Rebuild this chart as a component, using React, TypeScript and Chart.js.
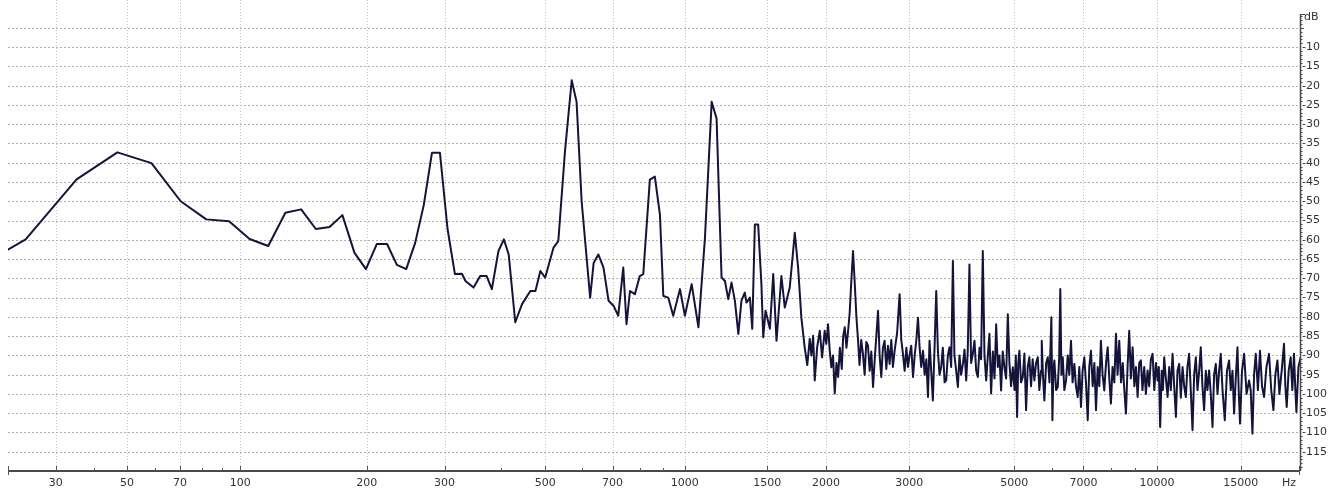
import React, { useEffect, useRef } from 'react';
import { Chart, Scale, registerables } from 'chart.js';

// Frequency axis of the analyser: log10(f + FREQ_WARP_HZ)
const FREQ_WARP_HZ = 18.5;

const lowBandHz = [11.72, 23.44, 35.16, 46.88, 58.59, 70.31, 82.03, 93.75, 105.47, 117.19, 128.91, 140.63, 152.34, 164.06, 175.78, 187.5, 199.22, 210.94, 222.66, 234.38, 246.09, 257.81, 269.53, 281.25, 292.97, 304.69, 316.41];
const lowBandDb = [-70, -59.9, -44.3, -37.3, -40.1, -50.0, -54.7, -55.2, -59.8, -61.6, -53.0, -52.1, -57.2, -56.7, -53.6, -63.4, -67.6, -61.1, -61.1, -66.5, -67.6, -60.8, -51.0, -37.4, -37.4, -57.2, -68.9];

const midBandHz = [328, 334, 348, 360, 372, 382, 395, 406, 416, 430, 445, 464, 476, 488, 500, 521, 534, 552, 571, 585, 600, 626, 637, 652, 669, 686, 703, 720, 738, 750, 763, 782, 801, 815, 842, 863, 885, 900, 922, 945, 977, 1001, 1035, 1070, 1105, 1142, 1170, 1199, 1219, 1239, 1259, 1280, 1302, 1322, 1344, 1355, 1378, 1394, 1412, 1435, 1458, 1471, 1488, 1520, 1545, 1570, 1608, 1635, 1675, 1717, 1745, 1773];
const midBandDb = [-68.8, -70.7, -72.4, -69.4, -69.4, -72.8, -62.9, -59.9, -63.8, -81.4, -76.7, -73.3, -73.3, -68.1, -69.8, -62.1, -60.3, -37.1, -18.6, -24.2, -50.0, -75.0, -66.0, -63.8, -67.2, -75.8, -77.1, -79.7, -67.2, -81.9, -73.3, -74.1, -69.4, -68.9, -44.4, -43.6, -53.5, -74.6, -75.0, -79.7, -72.8, -79.7, -71.5, -82.7, -59.5, -24.2, -28.5, -69.8, -70.7, -75.4, -71.1, -75.8, -84.4, -75.8, -73.7, -76.3, -75.0, -83.1, -56.0, -56.0, -71.5, -85.3, -78.4, -83.1, -68.9, -86.2, -69.4, -77.6, -72.4, -58.2, -67.2, -80.2];

const highBandHz = [
  1802, 1825, 1847, 1862, 1878, 1893, 1915, 1940, 1962, 1987, 2003, 2020, 2036, 2053, 2070, 2087, 2105, 2122, 2140, 2160,
  2175, 2192, 2210, 2228, 2245, 2263, 2282, 2300, 2320, 2339, 2355, 2375, 2395, 2415, 2435, 2455, 2475, 2495, 2516, 2540,
  2560, 2578, 2598, 2619, 2640, 2662, 2684, 2706, 2728, 2750, 2772, 2795, 2830, 2864, 2887, 2911, 2935, 2960, 2983, 3006,
  3031, 3057, 3082, 3107, 3132, 3157, 3182, 3209, 3235, 3262, 3288, 3313, 3340, 3367, 3395, 3423, 3451, 3478, 3506, 3535,
  3565, 3593, 3622, 3651, 3681, 3712, 3740, 3772, 3803, 3833, 3864, 3897, 3928, 3960, 3990, 4023, 4056, 4089, 4123, 4157,
  4191, 4225, 4258, 4293, 4328, 4364, 4400, 4434, 4470, 4508, 4545, 4581, 4618, 4655, 4692, 4730, 4769, 4808, 4848, 4886,
  4925, 4967, 5010, 5040, 5072, 5100, 5128, 5170, 5214, 5255, 5298, 5340, 5383, 5427, 5470, 5516, 5560, 5608, 5650, 5697,
  5717, 5750, 5790, 5840, 5887, 5935, 5990, 6020, 6050, 6078, 6130, 6179, 6220, 6256, 6290, 6330, 6380, 6433, 6485, 6535,
  6589, 6640, 6697, 6750, 6808, 6860, 6916, 6970, 7029, 7085, 7146, 7200, 7259, 7320, 7380, 7439, 7500, 7560, 7619, 7680,
  7744, 7810, 7873, 7935, 7998, 8060, 8130, 8196, 8260, 8328, 8400, 8470, 8535, 8603, 8670, 8740, 8810, 8885, 8960, 9030,
  9104, 9175, 9248, 9320, 9400, 9475, 9555, 9630, 9707, 9789, 9870, 9950, 10030, 10090, 10155, 10230, 10290, 10356, 10440, 10527,
  10610, 10694, 10784, 10870, 10960, 11045, 11135, 11225, 11320, 11410, 11503, 11590, 11686, 11780, 11880, 11975, 12073, 12170, 12270, 12366,
  12465, 12568, 12670, 12770, 12875, 12980, 13088, 13190, 13300, 13410, 13515, 13622, 13740, 13892, 14040, 14183, 14300, 14420, 14532, 14650,
  14773, 14860, 14957, 15100, 15253, 15440, 15625, 15750, 15884, 16010, 16141, 16310, 16477, 16640, 16803, 17000, 17213, 17400, 17583, 17750,
  17927, 18100, 18300, 18509, 18630, 18753, 18930, 19114, 19270, 19427, 19540, 19654, 19850, 20061,
];
const highBandDb = [
  -87.9, -92.5, -85.7, -90.0, -84.9, -96.5, -88.0, -83.6, -90.5, -83.6, -87.0, -81.9, -88.5, -93.1, -90.0, -99.9, -92.0, -95.6, -88.0, -93.5,
  -85.0, -82.7, -88.0, -83.6, -79.0, -70.7, -62.9, -70.7, -80.0, -86.2, -92.5, -86.0, -89.6, -95.0, -86.5, -87.5, -94.0, -89.0, -98.2, -90.0,
  -84.0, -78.4, -90.0, -95.6, -88.0, -86.2, -93.5, -87.5, -92.2, -86.0, -93.0, -88.8, -84.0, -74.1, -86.0, -89.6, -94.0, -88.0, -93.0, -90.0,
  -87.5, -95.6, -90.0, -86.0, -80.2, -88.0, -93.0, -88.8, -95.0, -91.0, -100.8, -86.2, -94.0, -101.7, -88.0, -73.3, -88.8, -95.0, -93.1, -88.0,
  -97.0, -96.5, -90.0, -87.9, -93.0, -65.5, -90.0, -94.0, -98.2, -90.0, -95.0, -92.2, -88.5, -96.5, -89.0, -66.4, -92.0, -89.6, -86.2, -94.0,
  -95.6, -88.0, -91.0, -62.9, -90.0, -96.5, -90.0, -84.4, -99.9, -89.0, -96.0, -81.9, -93.0, -90.0, -99.1, -89.0, -93.1, -96.0, -79.3, -92.0,
  -98.0, -93.1, -99.0, -90.0, -106.0, -92.0, -88.8, -97.0, -95.6, -89.5, -104.2, -93.0, -90.5, -98.0, -91.0, -96.5, -92.0, -90.5, -99.0, -94.0,
  -86.2, -95.0, -101.7, -92.0, -90.5, -97.0, -80.1, -106.8, -94.0, -91.3, -99.0, -98.2, -91.0, -72.8, -95.0, -90.5, -99.0, -96.5, -90.0, -95.0,
  -86.2, -97.0, -92.2, -98.0, -100.8, -93.0, -103.4, -94.0, -90.5, -97.0, -106.8, -93.0, -88.8, -98.0, -92.0, -104.2, -93.0, -98.0, -86.2, -95.0,
  -99.1, -92.0, -87.9, -96.0, -102.5, -93.0, -97.0, -84.4, -95.0, -86.2, -97.0, -92.0, -99.0, -105.1, -93.0, -83.6, -96.0, -87.9, -98.0, -93.0,
  -100.8, -92.0, -91.3, -99.0, -93.0, -100.0, -93.9, -98.0, -91.0, -89.6, -99.0, -92.0, -96.5, -93.0, -108.6, -94.0, -99.0, -90.5, -96.0, -100.8,
  -93.0, -99.0, -89.6, -98.0, -106.0, -94.0, -92.2, -101.0, -93.0, -98.0, -100.8, -93.0, -89.6, -99.0, -109.4, -95.0, -90.5, -99.0, -94.0, -87.9,
  -98.0, -104.2, -94.0, -99.0, -93.9, -100.0, -108.6, -95.0, -92.2, -100.0, -94.0, -89.6, -99.0, -106.8, -94.0, -91.3, -99.0, -94.0, -105.1, -96.0,
  -87.9, -99.0, -107.7, -94.0, -89.6, -100.0, -96.5, -99.0, -110.3, -95.0, -89.6, -99.0, -88.8, -98.0, -100.8, -93.0, -89.6, -99.0, -104.2, -95.0,
  -91.3, -100.0, -94.0, -87.0, -98.0, -103.4, -94.0, -90.5, -99.0, -89.6, -98.0, -104.7, -93.0, -90.5,
];

const freqTicksHz = [30, 50, 70, 100, 200, 300, 500, 700, 1000, 1500, 2000, 3000, 5000, 7000, 10000, 15000];
const freqMinorTicksHz = [40, 60, 80, 90, 400, 600, 800, 900, 4000, 6000, 8000, 9000];
const dbTickLabels = [-10, -15, -20, -25, -30, -35, -40, -45, -50, -55, -60, -65, -70, -75, -80, -85, -90, -95, -100, -105, -110, -115];
const dbGridLines = [-5, -10, -15, -20, -25, -30, -35, -40, -45, -50, -55, -60, -65, -70, -75, -80, -85, -90, -95, -100, -105, -110, -115];

const FONT = 'DejaVu Sans';

class WarpedFreqScale extends Scale {
  static id = 'warpedFreq';
  static defaults = {};
  u0 = 0;
  u1 = 1;
  parse(raw: any) {
    return typeof raw === 'number' ? raw : Number(raw);
  }
  determineDataLimits() {
    this.min = (this.options as any).min;
    this.max = (this.options as any).max;
  }
  buildTicks() {
    return freqTicksHz.map((v) => ({ value: v }));
  }
  getLabelForValue(v: number) {
    return String(v);
  }
  configure() {
    super.configure();
    this.u0 = Math.log10(this.min + FREQ_WARP_HZ);
    this.u1 = Math.log10(this.max + FREQ_WARP_HZ);
  }
  getPixelForValue(v: number) {
    const u = Math.log10(v + FREQ_WARP_HZ);
    return this.getPixelForDecimal((u - this.u0) / (this.u1 - this.u0));
  }
  getValueForPixel(p: number) {
    const d = this.getDecimalForPixel(p);
    return Math.pow(10, this.u0 + d * (this.u1 - this.u0)) - FREQ_WARP_HZ;
  }
  getPixelForTick(i: number) {
    const t = this.ticks;
    return i >= 0 && i < t.length ? this.getPixelForValue(t[i].value) : NaN;
  }
}

Chart.register(...registerables, WarpedFreqScale as any);

const framePlugin = {
  id: 'analyserFrame',
  beforeDatasetsDraw(chart: any) {
    const { ctx, chartArea: a, scales } = chart;
    const x = scales.x;
    const y = scales.y;
    ctx.save();
    ctx.lineWidth = 1;
    ctx.strokeStyle = '#b2b2b2';
    ctx.setLineDash([2, 2]);
    for (const v of dbGridLines) {
      const py = Math.round(y.getPixelForValue(v)) + 0.5;
      ctx.beginPath();
      ctx.moveTo(a.left, py);
      ctx.lineTo(a.right, py);
      ctx.stroke();
    }
    ctx.strokeStyle = '#c2c2c2';
    ctx.setLineDash([1, 2]);
    for (const f of freqTicksHz) {
      const px = Math.round(x.getPixelForValue(f)) + 0.5;
      ctx.beginPath();
      ctx.moveTo(px, 0);
      ctx.lineTo(px, a.bottom);
      ctx.stroke();
    }
    ctx.restore();
  },
  afterDatasetsDraw(chart: any) {
    const { ctx, chartArea: a, scales } = chart;
    const x = scales.x;
    const y = scales.y;
    ctx.save();
    ctx.setLineDash([]);
    // bottom axis
    ctx.strokeStyle = '#4a4a4a';
    ctx.lineWidth = 2;
    ctx.beginPath();
    ctx.moveTo(a.left, a.bottom);
    ctx.lineTo(a.right, a.bottom);
    ctx.stroke();
    ctx.lineWidth = 1;
    ctx.strokeStyle = '#555';
    for (const f of freqTicksHz) {
      const px = Math.round(x.getPixelForValue(f)) + 0.5;
      ctx.beginPath();
      ctx.moveTo(px, a.bottom - 5);
      ctx.lineTo(px, a.bottom);
      ctx.stroke();
    }
    for (const f of freqMinorTicksHz) {
      const px = Math.round(x.getPixelForValue(f)) + 0.5;
      ctx.beginPath();
      ctx.moveTo(px, a.bottom - 3);
      ctx.lineTo(px, a.bottom);
      ctx.stroke();
    }
    for (const px of [a.left + 0.5, a.right - 0.5]) {
      ctx.beginPath();
      ctx.moveTo(px, a.bottom - 5);
      ctx.lineTo(px, a.bottom + 4);
      ctx.stroke();
    }
    // right axis
    const axisTop = y.getPixelForValue(-1.5);
    ctx.strokeStyle = '#4a4a4a';
    ctx.lineWidth = 1.5;
    ctx.beginPath();
    ctx.moveTo(a.right + 0.5, axisTop);
    ctx.lineTo(a.right + 0.5, a.bottom);
    ctx.stroke();
    ctx.lineWidth = 1;
    ctx.beginPath();
    ctx.moveTo(a.right, Math.round(axisTop) + 0.5);
    ctx.lineTo(a.right + 5, Math.round(axisTop) + 0.5);
    ctx.stroke();
    for (let v = -119; v <= -2; v++) {
      if (v % 5 === 0 && v !== -5) continue;
      const py = Math.round(y.getPixelForValue(v)) + 0.5;
      ctx.beginPath();
      ctx.moveTo(a.right, py);
      ctx.lineTo(a.right + (v === -5 ? 4 : 2.5), py);
      ctx.stroke();
    }
    // unit labels
    ctx.fillStyle = '#333';
    ctx.font = `11px "${FONT}"`;
    ctx.textBaseline = 'middle';
    ctx.textAlign = 'left';
    ctx.fillText('dB', a.right + 4, 17.5);
    ctx.textAlign = 'center';
    ctx.fillText('Hz', a.right - 11, 483.5);
    ctx.restore();
  },
};

export default function App() {
  const canvasRef = useRef<HTMLCanvasElement | null>(null);

  useEffect(() => {
    const canvas = canvasRef.current;
    if (!canvas) return;
    const freqs = [...lowBandHz, ...midBandHz, ...highBandHz];
    const levels = [...lowBandDb, ...midBandDb, ...highBandDb];
    const points = freqs.map((f, i) => ({ x: f, y: levels[i] }));

    const chart = new Chart(canvas, {
      type: 'line',
      data: {
        datasets: [
          {
            label: 'Spectrum',
            data: points as any,
            borderColor: '#15133a',
            borderWidth: 2,
            borderJoinStyle: 'round',
            pointRadius: 0,
            tension: 0,
            fill: false,
          },
        ],
      },
      options: {
        animation: false,
        responsive: false,
        devicePixelRatio: 1,
        events: [],
        layout: { padding: { left: 8, top: 6, right: 0, bottom: 0 } },
        plugins: { legend: { display: false }, tooltip: { enabled: false }, title: { display: false } },
        scales: {
          x: {
            type: 'warpedFreq' as any,
            position: 'bottom',
            min: 20,
            max: 20000,
            grid: { display: false, drawTicks: false },
            border: { display: false },
            afterFit: (s: any) => {
              s.height = 18;
            },
            ticks: {
              autoSkip: false,
              maxRotation: 0,
              minRotation: 0,
              padding: 6,
              color: '#333',
              font: { family: FONT, size: 11 },
              callback: (v: any) => String(v),
            },
          } as any,
          y: {
            type: 'linear',
            position: 'right',
            min: -120,
            max: 0,
            grid: { display: false, drawTicks: false },
            border: { display: false },
            afterBuildTicks: (s: any) => {
              s.ticks = dbTickLabels.map((v) => ({ value: v }));
            },
            afterFit: (s: any) => {
              s.width = 41;
            },
            ticks: {
              autoSkip: false,
              padding: 2,
              crossAlign: 'near',
              color: '#333',
              font: { family: FONT, size: 11 },
              callback: (v: any) => String(v),
            },
          },
        },
      },
      plugins: [framePlugin],
    });
    return () => chart.destroy();
  }, []);

  return (
    <div style={{ position: 'fixed', left: 0, top: 0, width: 1341, height: 489, background: '#fff' }}>
      <canvas ref={canvasRef} width={1341} height={489} style={{ display: 'block' }} />
    </div>
  );
}
